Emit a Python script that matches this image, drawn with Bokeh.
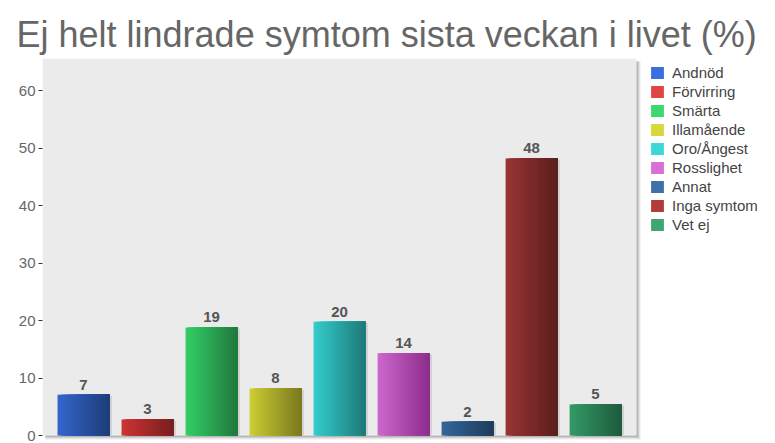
from bokeh.plotting import figure
from bokeh.models import ColumnDataSource, Range1d, Legend, LegendItem, LabelSet, FixedTicker
from bokeh.core.properties import value
from bokeh.embed import file_html
from bokeh.resources import INLINE

# ---- data ----
categories = ["Andnöd", "Förvirring", "Smärta", "Illamående", "Oro/Ångest",
              "Rosslighet", "Annat", "Inga symtom", "Vet ej"]
values = [7.1, 2.8, 18.8, 8.2, 19.8, 14.3, 2.4, 48.2, 5.4]
y_ticks = [0, 10, 20, 30, 40, 50, 60]
title_text = "Ej helt lindrade symtom sista veckan i livet (%)"

# ---- styling ----
light = ["#3366CC", "#CC3333", "#33CC66", "#CCCC33", "#33CCCC",
         "#CC66CC", "#336699", "#993333", "#339966"]
dark = ["#1F3D7A", "#7A1F1F", "#1F7A3D", "#7A7A1F", "#1F7A7A",
        "#8E2E8E", "#1F3D5C", "#5C1F1F", "#1F5C3D"]
legend_cols = ["#3A6FDD", "#E04545", "#3CD870", "#D8D83C", "#3CD8D8",
               "#D870D8", "#3D72A8", "#B03C3C", "#3CA870"]

FONT = "Liberation Sans"
BAR_W = 0.81
N_STRIPES = 24

W, H = 775, 443
LEFT, TOP = 42, 58
AREA_W, AREA_H = 594, 377          # grey plotting area in px
PAD = 0.64                          # category padding at both ends
Y_MAX = 65.6

n = len(categories)
x_lo, x_hi_area = -PAD, n - 1 + PAD
px_x = AREA_W / (x_hi_area - x_lo)      # px per x unit
px_y = AREA_H / Y_MAX                   # px per y unit
frame_w, frame_h = W - LEFT, H - TOP
x_hi = x_lo + frame_w / px_x
y_lo = Y_MAX - frame_h / px_y


def hex2rgb(h):
    h = h.lstrip("#")
    return tuple(int(h[i:i + 2], 16) for i in (0, 2, 4))


def mix(a, b, t):
    ra, rb = hex2rgb(a), hex2rgb(b)
    return "#%02x%02x%02x" % tuple(round(ra[i] + (rb[i] - ra[i]) * t) for i in range(3))


xs = list(range(n))

p = figure(width=W, height=H,
           x_range=Range1d(x_lo, x_hi), y_range=Range1d(y_lo, Y_MAX),
           output_backend="svg", toolbar_location=None,
           min_border_left=LEFT, min_border_right=0, min_border_top=TOP, min_border_bottom=0)

p.background_fill_color = "white"
p.border_fill_color = "white"
p.outline_line_color = None
p.grid.visible = False
p.xaxis.visible = False

p.title.text = title_text
p.title.text_font = FONT
p.title.text_font_size = "36px"
p.title.text_font_style = "normal"
p.title.text_color = "#666666"
p.title.align = "left"
p.title.offset = -26
p.title.standoff = 7

# y axis
p.yaxis.ticker = FixedTicker(ticks=y_ticks)
p.yaxis.axis_line_color = None
p.yaxis.major_tick_out = 4
p.yaxis.major_tick_in = 0
p.yaxis.minor_tick_line_color = None
p.yaxis.major_tick_line_color = "#333333"
p.yaxis.major_label_text_font = FONT
p.yaxis.major_label_text_font_size = "15px"
p.yaxis.major_label_text_color = "#666666"
p.yaxis.major_label_standoff = 3

# plotting-area shadow (fading grey bands to the right and below), lightest first
shadow_cols = ["#A8A8A8", "#C4C4C4", "#DCDCDC", "#EEEEEE"]
for j in range(len(shadow_cols) - 1, -1, -1):
    c = shadow_cols[j]
    dx = (j + 1) / px_x
    dy = (j + 1) / px_y
    p.quad(left=[x_lo + 3 / px_x], right=[x_hi_area + dx], bottom=[-dy], top=[0],
           fill_color=c, line_color=None)
    p.quad(left=[x_hi_area], right=[x_hi_area + dx], bottom=[-dy], top=[Y_MAX - 3 / px_y],
           fill_color=c, line_color=None)

# grey plotting area
p.quad(left=[x_lo], right=[x_hi_area], bottom=[0], top=[Y_MAX],
       fill_color="#EBEBEB", line_color=None)

# bar shadows
p.vbar(x=[x + 0.04 for x in xs], top=[v - 0.2 for v in values], width=BAR_W,
       fill_color="#D2D2D2", line_color=None)

# gradient bars built from overlapping stripes
sl, sr, st, sc = [], [], [], []
for i, v in enumerate(values):
    left = xs[i] - BAR_W / 2
    for k in range(N_STRIPES):
        sl.append(left + BAR_W * k / N_STRIPES)
        sr.append(left + BAR_W)
        st.append(v)
        sc.append(mix(light[i], dark[i], k / (N_STRIPES - 1)))
p.quad(left=sl, right=sr, bottom=0, top=st, fill_color=sc, line_color=None)

# value labels
lab_src = ColumnDataSource(dict(x=xs, y=values, t=[str(round(v)) for v in values]))
p.add_layout(LabelSet(x="x", y="y", text="t", source=lab_src, text_align="center",
                      text_baseline="alphabetic", y_offset=5, text_font=value(FONT),
                      text_font_size=value("15px"), text_font_style="bold", text_color="#555555"))

# legend (proxy glyphs outside the visible range)
items = []
for i, c in enumerate(categories):
    r = p.quad(left=[x_lo - 5], right=[x_lo - 4], bottom=[-5], top=[-4], fill_color=legend_cols[i],
               line_color=None)
    items.append(LegendItem(label=c, renderers=[r]))
legend = Legend(items=items, location=(607, 210), margin=0, padding=0,
                glyph_width=16, glyph_height=15, label_height=17, spacing=2,
                label_standoff=7, label_text_font=FONT, label_text_font_size="15px",
                label_text_color="#444444", border_line_color=None,
                background_fill_alpha=0)
p.add_layout(legend)

open("out.html", "w").write(file_html(p, INLINE))
